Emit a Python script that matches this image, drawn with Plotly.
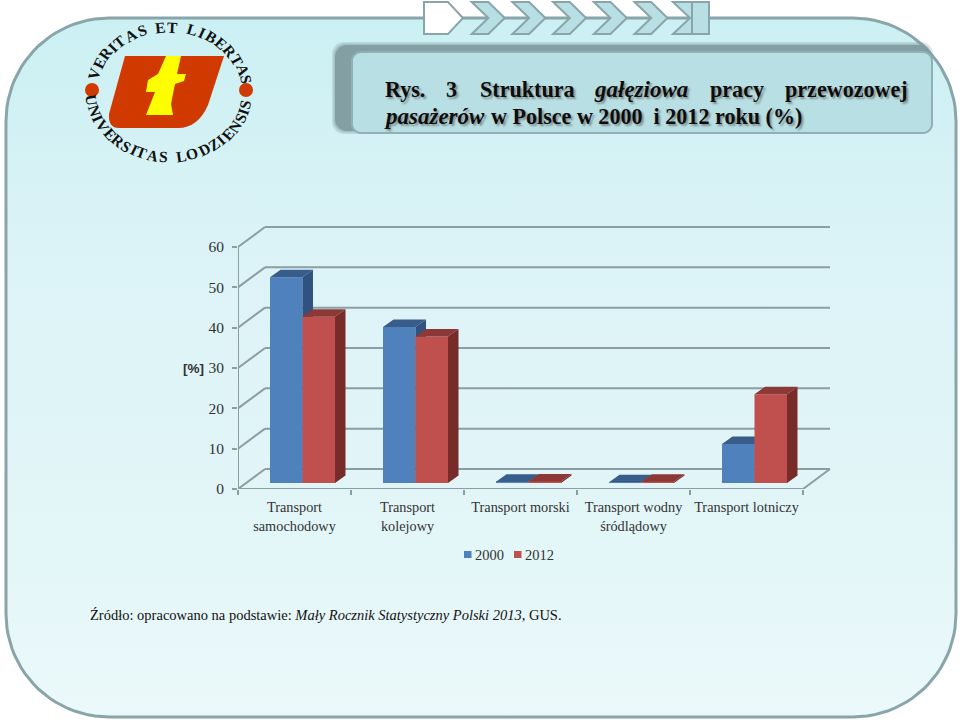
import numpy as np
import plotly.graph_objects as go

# ---------- data ----------
categories = ["Transport<br>samochodowy", "Transport<br>kolejowy", "Transport morski",
              "Transport wodny<br>śródlądowy", "Transport lotniczy"]
values_2000 = [51.0, 38.7, 0.3, 0.2, 9.7]
values_2012 = [41.2, 36.3, 0.4, 0.3, 22.0]
series_names = ["2000", "2012"]
y_ticks = [0, 10, 20, 30, 40, 50, 60]

# ---------- pixel frame of the chart ----------
W, H = 960, 722
PX_L, PX_R, PX_B, PX_T = 238, 840, 489, 220
PX_PER_CAT = 113.0
PX_PER_UNIT = 242 / 60
XMAX = (PX_R - PX_L) / PX_PER_CAT
YMAX = (PX_B - PX_T) / PX_PER_UNIT
dom_x = [PX_L / W, PX_R / W]
dom_y = [1 - PX_B / H, 1 - PX_T / H]

WALL_DX, WALL_DY = 27 / PX_PER_CAT, 20 / PX_PER_UNIT
LIFT = 6 / PX_PER_UNIT
BAR_W = 32.5 / PX_PER_CAT
SHIFT = 8 / PX_PER_CAT
DX, DY = 10.5 / PX_PER_CAT, 7.5 / PX_PER_UNIT

C_LINE = "#8a9ea3"
C_PANEL = "#8aa5a9"
C_TXT = "#333333"
SERIF = "Liberation Serif"

fig = go.Figure()
shapes, ann = [], []


# ---------- decor helpers (slide coordinates in pixels) ----------
def rounded(x0, y0, x1, y1, r, n=24):
    px, py = [], []
    for cx, cy, a0 in [(x1 - r, y0 + r, -90), (x1 - r, y1 - r, 0), (x0 + r, y1 - r, 90), (x0 + r, y0 + r, 180)]:
        t = np.radians(np.linspace(a0, a0 + 90, n))
        px += list(cx + r * np.cos(t))
        py += list(cy + r * np.sin(t))
    return px + px[:1], py + py[:1]


def poly(pts, fill, line=None, lw=0, xref="x", yref="y", layer="above", opacity=1):
    path = "M" + "L".join(f"{x:.1f},{y:.1f}" for x, y in pts) + "Z"
    shapes.append(dict(type="path", path=path, fillcolor=fill, xref=xref, yref=yref, layer=layer,
                       opacity=opacity, line=dict(color=line or fill, width=lw)))


def rpath(x0, y0, x1, y1, r, fill, line=None, lw=0, opacity=1):
    px, py = rounded(x0, y0, x1, y1, r, 8)
    poly(list(zip(px, py)), fill, line, lw, opacity=opacity)


# gradient panel
px, py = rounded(6, 18, 956, 717, 103)
fig.add_trace(go.Scatter(
    x=px, y=py, mode="lines", fill="toself", xaxis="x", yaxis="y", hoverinfo="skip", showlegend=False,
    line=dict(color=C_PANEL, width=3),
    fillgradient=dict(type="vertical", start=18, stop=717,
                      colorscale=[[0, "#cbf0f3"], [0.22, "#d6f2f5"], [0.35, "#dcf3f7"],
                                  [0.75, "#e3f6f8"], [1, "#ecf9fa"]]),
))

# chevrons
poly([(424, 2), (448, 2), (463, 18), (448, 34), (424, 34)], "#ffffff", C_PANEL, 2)
for x0 in [471.7, 512.4, 553.1, 593.8, 634.5]:
    poly([(x0, 2), (x0 + 16.7, 2), (x0 + 33, 18), (x0 + 16.7, 34), (x0, 34), (x0 + 16.7, 18)], "#b8dfe3", C_PANEL, 2)
poly([(673, 2), (692, 2), (692, 34), (673, 34), (690, 18)], "#b8dfe3", C_PANEL, 2)
poly([(692, 2), (709, 2), (709, 34), (692, 34)], "#b8dfe3", C_PANEL, 2)

# header box with soft shadow
for g, op in [(3, 0.25), (1.5, 0.4), (0, 0.9)]:
    rpath(335 - g, 45 - g, 930 + g, 131 + g, 12, "#7f9ba0", opacity=op)
rpath(352, 52, 932, 133, 9, "#b8dfe3", "#8fb0b5", 2)

# logo
shapes.append(dict(type="path", xref="x", yref="y", layer="above", fillcolor="#d03a00", line=dict(width=0),
                   path="M125,56 L224,56 L208,105 Q198,128 178,128 L119,128 Q108,128 109,114 Z"))
poly([(166, 56), (181, 56), (177, 74), (186, 74), (184, 81), (175, 84), (171, 104), (173, 115),
      (146, 115), (155, 92), (146, 92), (148, 80), (158, 74)], "#ffff00")
for cx in (92, 246):
    shapes.append(dict(type="circle", xref="x", yref="y", layer="above", x0=cx - 7, x1=cx + 7, y0=83, y1=97,
                       fillcolor="#d03a00", line=dict(width=0)))

CX, CY, RX, RY = 169, 91, 78, 64
GLYPH = {"I": .4, "T": .62, "S": .55, "E": .65, "L": .65, "A": .72, "V": .72, "R": .68, "B": .67, "U": .72,
         "N": .72, "D": .72, "O": .75, "Z": .62, " ": .35}


def arc_angles(text, a0, a1):
    w = np.array([GLYPH[c] for c in text])
    edges = np.concatenate([[0], np.cumsum(w)])
    mids = (edges[:-1] + edges[1:]) / 2
    return a0 + (a1 - a0) * (mids - mids[0]) / (mids[-1] - mids[0])


top_text = "VERITAS ET LIBERTAS"
for ch, a in zip(top_text, arc_angles(top_text, -74, 80)):
    t = np.radians(a)
    ann.append(dict(x=CX + RX * np.sin(t), y=CY - RY * np.cos(t), text=f"<b>{ch}</b>", textangle=float(a),
                    showarrow=False, xref="x", yref="y", font=dict(family=SERIF, size=15.5, color="#111111")))
bot_text = "UNIVERSITAS LODZIENSIS"
for ch, a in zip(bot_text, arc_angles(bot_text, -82, 78)):
    t = np.radians(a)
    ann.append(dict(x=CX + RX * np.sin(t), y=CY + (RY + 2) * np.cos(t), text=f"<b>{ch}</b>", textangle=float(-a),
                    showarrow=False, xref="x", yref="y", font=dict(family=SERIF, size=15.5, color="#111111")))

# heading (justified: word by word)
SH = "2px 2px 2px #7f8f92"
def word(x, y, text, italic=False):
    ann.append(dict(x=x, y=y, text=f"<b>{'<i>' + text + '</i>' if italic else text}</b>", showarrow=False,
                    xref="x", yref="y", xanchor="left", yanchor="middle", borderpad=0, borderwidth=0,
                    xshift=-1, font=dict(family=SERIF, size=23 if italic else 22.1, color="#0d0d0d", shadow=SH)))
for x, t, it in [(386, "Rys.", False), (447, "3", False), (481, "Struktura", False), (595, "gałęziowa", True),
                 (711, "pracy", False), (786, "przewozowej", False)]:
    word(x, 89, t, italic=it)
word(385, 116, "pasażerów", italic=True)
word(492, 116, "w Polsce w 2000&nbsp;&nbsp;i 2012 roku (%)")

# legend
poly([(464, 551), (471.5, 551), (471.5, 558), (464, 558)], "#4f81bd")
poly([(514, 551), (521.5, 551), (521.5, 558), (514, 558)], "#c0504d")
for x, t in [(473, series_names[0]), (523, series_names[1])]:
    ann.append(dict(x=x, y=554.5, text=t, showarrow=False, xref="x", yref="y", xanchor="left",
                    font=dict(family=SERIF, size=14.5, color=C_TXT)))
ann.append(dict(x=193.5, y=368, text="<b>[%]</b>", showarrow=False, xref="x", yref="y",
                font=dict(family="Liberation Sans", size=13.5, color=C_TXT)))
ann.append(dict(x=88, y=615, showarrow=False, xref="x", yref="y", xanchor="left",
                text="Źródło: opracowano na podstawie: <i>Mały Rocznik Statystyczny Polski 2013</i>, GUS.",
                font=dict(family=SERIF, size=14.5, color="#111111")))

# ---------- chart grid (below bars) ----------
def gl(x0, y0, x1, y1):
    shapes.append(dict(type="line", xref="x2", yref="y2", layer="below", x0=x0, y0=y0, x1=x1, y1=y1,
                       line=dict(color=C_LINE, width=2)))
for v in y_ticks:
    gl(WALL_DX, v + WALL_DY, 5 + WALL_DX, v + WALL_DY)
    gl(0, v, WALL_DX, v + WALL_DY)
gl(0, 0, 5, 0)
gl(0, 0, 0, 60)
gl(5, 0, 5 + WALL_DX, WALL_DY)

# ---------- bars with 3D faces ----------
centers = np.arange(5) + 0.5 + SHIFT


def add_series(vals, name, left, ax, front, side, top):
    xa, ya = f"x{ax}", f"y{ax}"
    fig.add_trace(go.Bar(x=list(left + BAR_W / 2), y=vals, width=BAR_W, base=LIFT, name=name, xaxis=xa, yaxis=ya,
                         marker=dict(color=front, line=dict(width=0)), showlegend=False))
    sx, sy, tx, ty = [], [], [], []
    for l, v in zip(left, vals):
        r = l + BAR_W
        h = LIFT + v
        sx += [r, r + DX, r + DX, r, r, None]
        sy += [LIFT, LIFT + DY, h + DY, h, LIFT, None]
        tx += [l, r, r + DX, l + DX, l, None]
        ty += [h, h, h + DY, h + DY, h, None]
    for fx, fy, c in [(sx, sy, side), (tx, ty, top)]:
        fig.add_trace(go.Scatter(x=fx, y=fy, mode="lines", fill="toself", fillcolor=c, line=dict(width=0, color=c),
                                 xaxis=xa, yaxis=ya, hoverinfo="skip", showlegend=False))


add_series(values_2000, series_names[0], centers - BAR_W, 2, "#4f81bd", "#2f5280", "#385d8a")
add_series(values_2012, series_names[1], centers, 3, "#c0504d", "#772c2a", "#8c3836")

# ---------- axes ----------
hidden = dict(visible=False, fixedrange=True)
layout_axes = dict(
    xaxis=dict(domain=[0, 1], range=[0, W], **hidden),
    yaxis=dict(domain=[0, 1], range=[H, 0], **hidden),
    xaxis2=dict(domain=dom_x, range=[0, XMAX], anchor="y2", showgrid=False, zeroline=False, showline=False,
                tickmode="array", tickvals=list(np.arange(5) + 0.5), ticktext=categories, ticks="outside",
                ticklen=0, ticklabelstandoff=5, tickfont=dict(family=SERIF, size=14.3, color=C_TXT),
                minor=dict(tickmode="array", tickvals=[0, 1, 2, 3, 4, 5], ticks="outside", ticklen=5,
                           tickcolor=C_LINE, tickwidth=1.5, showgrid=False)),
    yaxis2=dict(domain=dom_y, range=[0, YMAX], anchor="x2", showgrid=False, zeroline=False, showline=False,
                tickmode="array", tickvals=y_ticks, ticks="outside", ticklen=5, tickcolor=C_LINE, tickwidth=2,
                ticklabelstandoff=5, tickfont=dict(family=SERIF, size=15.5, color=C_TXT)),
    xaxis3=dict(domain=dom_x, range=[0, XMAX], anchor="y3", **hidden),
    yaxis3=dict(domain=dom_y, range=[0, YMAX], anchor="x3", **hidden),
)

# the page clips anything past the window; the drawing area itself comes out 8 px shorter than the layout height
fig.update_layout(
    width=W, height=H + 8, margin=dict(l=0, r=0, t=0, b=0), autosize=False,
    paper_bgcolor="#ffffff", plot_bgcolor="rgba(0,0,0,0)", showlegend=False,
    barmode="overlay", shapes=shapes, annotations=ann, **layout_axes,
)
fig.write_html("out.html", post_script="document.body.style.margin='0';document.body.style.overflow='hidden';",
               config=dict(displayModeBar=False))
